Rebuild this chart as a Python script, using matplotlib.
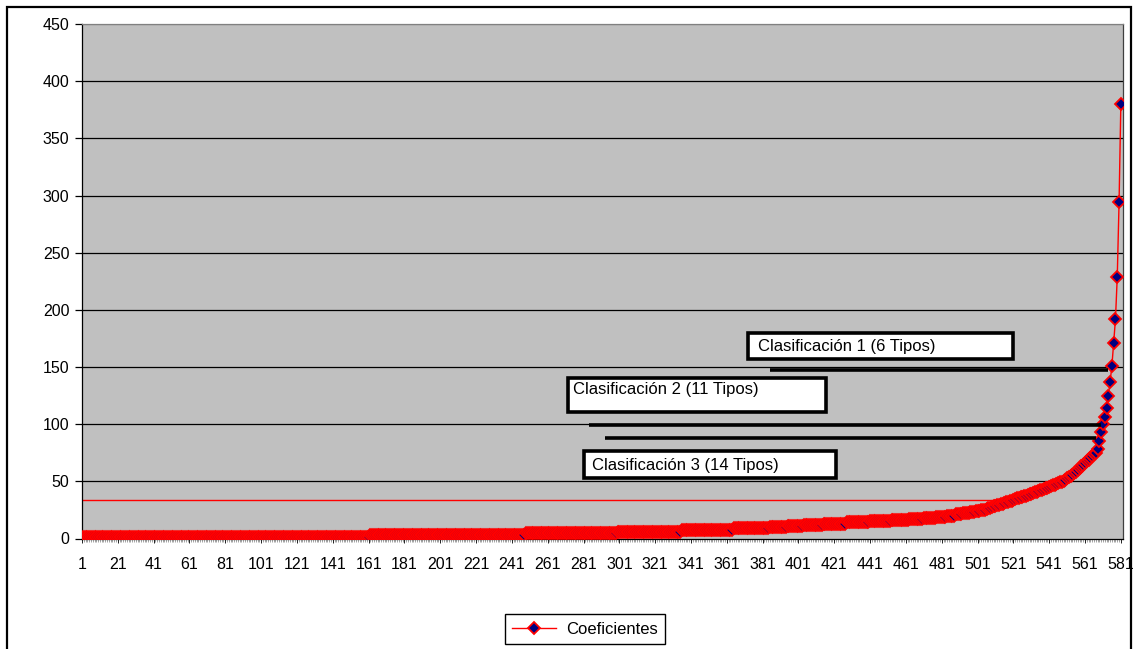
import numpy as np
import matplotlib.pyplot as plt
from matplotlib.patches import Rectangle

plt.rcParams['font.family'] = ['Liberation Sans', 'DejaVu Sans']

# sorted coefficients.
# the flat part is kept as runs of equal value (value, how many points)
run_values = [1, 3, 4.5, 6, 7.5, 9, 10, 11, 12, 13, 14, 15, 16, 17, 18, 19,
              20, 21, 22, 23, 24, 25]
run_counts = [161, 87, 51, 36, 29, 20, 10, 9, 11, 13, 13, 12, 10, 8, 7, 6,
              5, 4, 4, 3, 3, 3]
# the steep end, point by point (index 506 .. 581)
tail_values = [26, 26.5, 27, 27.5, 28, 28.5, 29, 29.5, 30, 30.5, 31, 31.5, 32,
               32.5, 33, 33.7, 34.4,
               35, 35.5, 36, 36.5, 37, 37.5, 38, 38.6, 39.2, 39.8, 40.4, 41,
               41.6, 42.2, 42.8, 43.4, 44, 44.6, 45.2, 45.8, 46.4, 47, 47.7,
               48.4, 49.1, 49.8,
               50.5, 51.5, 52.5, 53.5, 54.5, 55.5, 57, 58.5, 60, 61.5, 63,
               64.5, 66, 67.5, 69, 70.5, 72, 73.5, 75, 78,
               85, 93, 100.5, 106, 114, 125, 137, 151, 171, 192, 229, 294, 380]

# cut levels drawn as thick black lines (level, first point, last point)
cut_levels = [147, 99, 87.6]
cut_starts = [385, 284, 293]
cut_ends = [574, 570, 567]
cut_labels = ['Clasificación 1 (6 Tipos)', 'Clasificación 2 (11 Tipos)',
              'Clasificación 3 (14 Tipos)']

ref_level = 34
ref_end = 520

coef = np.concatenate([np.repeat(run_values, run_counts), tail_values])
idx = np.arange(1, len(coef) + 1)

W, H = 1138, 649
fig = plt.figure(figsize=(W / 100, H / 100), dpi=100)
ax = fig.add_axes([82 / W, 1 - 538.5 / H, (1123 - 82) / W, (538.5 - 24) / H])
ax.set_facecolor('#c0c0c0')

# gridlines
for v in range(50, 451, 50):
    ax.axhline(v, color='#000000' if v < 450 else '#808080', lw=0.9, zorder=1)

# reference line
ax.plot([1, ref_end], [ref_level, ref_level], color='#ff0000', lw=1, zorder=2)

ln, = ax.plot(idx, coef, color='#ff0000', lw=1, marker='D', ms=6.5,
              mfc='#000080', mec='#ff0000', mew=1.3, zorder=3,
              label='Coeficientes')

for lev, x0, x1 in zip(cut_levels, cut_starts, cut_ends):
    ax.plot([x0, x1], [lev, lev], color='black', lw=2.6,
            solid_capstyle='butt', zorder=4)

# label boxes (x0, x1, y0, y1 in data units) and text anchor
box_rects = [(373, 521, 156.7, 179.4), (272.5, 416.6, 110.6, 140.3),
             (281.5, 422.2, 52.9, 76.5)]
text_pos = [(378.6, 168.3), (275.3, 130.5), (285.9, 64.2)]
for (x0, x1, y0, y1), (tx, ty), lab in zip(box_rects, text_pos, cut_labels):
    ax.add_patch(Rectangle((x0, y0), x1 - x0, y1 - y0, facecolor='white',
                           edgecolor='black', lw=2.6, zorder=5))
    ax.text(tx, ty, lab, fontsize=12, ha='left', va='center', zorder=6)

ax.set_xlim(1, 582.2)
ax.set_ylim(0, 450)
ax.set_yticks(range(0, 451, 50))
ax.set_xticks(range(1, 582, 20))
ax.set_xticks(idx, minor=True)
ax.tick_params(axis='y', length=5, width=0.9, pad=4, labelsize=11.5)
ax.tick_params(axis='x', which='major', length=3, width=0.6, pad=10,
               labelsize=11.5)
ax.tick_params(axis='x', which='minor', length=2, width=0.4, color='#606060')

ax.spines['left'].set_color('black')
ax.spines['bottom'].set_color('black')
ax.spines['right'].set_color('#404040')
ax.spines['top'].set_color('#808080')
for s in ax.spines.values():
    s.set_linewidth(0.9)

fig.legend(handles=[ln], loc='center', bbox_to_anchor=(585 / W, 1 - 629 / H),
           fontsize=12, frameon=True, fancybox=False, edgecolor='black',
           framealpha=1, handlelength=2.6, handletextpad=0.6, borderpad=0.45)

# outer chart border
fig.add_artist(Rectangle((7 / W, -0.02), (1131 - 7) / W, 1 - 7 / H + 0.02,
                         transform=fig.transFigure, fill=False,
                         edgecolor='black', lw=1.6))

fig.savefig('out.png', dpi=100)
